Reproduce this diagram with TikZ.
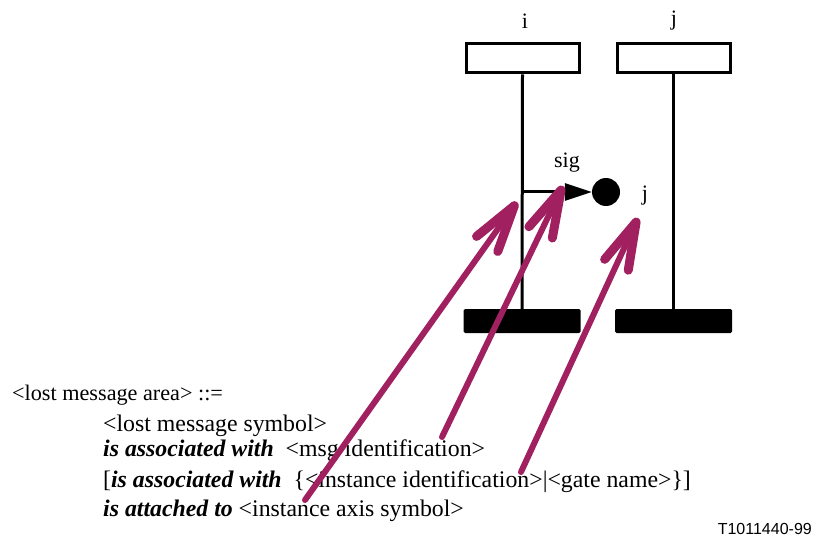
\documentclass[tikz,border=0pt]{standalone}
\usepackage{fontspec}
\setmainfont{Liberation Serif}
\newfontfamily\labelsans{Liberation Sans}
\usetikzlibrary{arrows.meta}
\definecolor{pointer}{RGB}{160,32,96}
\tikzset{
  headbox/.style={draw, line width=3pt, minimum width=113pt, minimum height=29pt, inner sep=0pt},
  endbar/.style={fill=black, rounded corners=1.5pt, minimum width=117pt, minimum height=24pt, inner sep=0pt},
  axisline/.style={line width=3pt},
  lbl/.style={font=\fontsize{22}{26}\selectfont, inner sep=0pt},
  grammar/.style={font=\fontsize{23.8}{28}\selectfont, anchor=base west, inner sep=0pt},
  pointerarrow/.style={draw=pointer, line width=6pt, line cap=round,
    -{Straight Barb[length=47pt, width=26pt, line width=9pt, round]}},
}
\newcommand{\kw}[1]{\textbf{\textit{#1}}}
\begin{document}
\begin{tikzpicture}[x=1pt, y=-1pt]
\useasboundingbox (0,0) rectangle (814,540);
% instance heads
\node[headbox] (headi) at (522.5,58.5) {};
\node[headbox] (headj) at (673.5,58.5) {};
\node[lbl] (namei) at (525,21) {i};
\node[lbl] (namej) at (674,21) {j};
% instance ends
\node[endbar] (endi) at (522,321) {};
\node[endbar] (endj) at (673.5,321) {};
% axes
\draw[axisline] (headi.south) -- (endi.north);
\draw[axisline] (headj.south) -- (endj.north);
% lost message
\coordinate (msgstart) at (522,192);
\node[circle, fill=black, minimum size=28pt, inner sep=0pt] (lost) at (606,192) {};
\draw[line width=3pt, -{Triangle[length=27pt, width=17pt]}] (msgstart) -- (lost.west);
\node[lbl] (sig) at (567,163) {sig};
\node[lbl] (jlabel) at (645,196) {j};
% grammar text
\node[grammar, font=\fontsize{22.2}{28}\selectfont] (g1) at (12,400) {<lost message area> ::=};
\node[grammar] (g2) at (103,431) {<lost message symbol>};
\node[grammar] (g3) at (103,456) {\kw{is associated with}\ \ <msg identification>};
\node[grammar] (g4) at (103,487) {[\kw{is associated with}\ \ \{<instance identification>|<gate name>\}]};
\node[grammar] (g5) at (103,516) {\kw{is attached to} <instance axis symbol>};
\node[font=\labelsans\fontsize{16}{18}\selectfont, anchor=base east, inner sep=0pt] (tag) at (812,534) {T1011440-99};
% pointer arrows
\coordinate (p1s) at (305,500);
\coordinate (p1e) at (517,202);
\coordinate (p2s) at (442,437);
\coordinate (p2e) at (563,186);
\coordinate (p3s) at (521,472);
\coordinate (p3e) at (638,218);
\draw[pointerarrow] (p1s) -- (p1e);
\draw[pointerarrow] (p2s) -- (p2e);
\draw[pointerarrow] (p3s) -- (p3e);
\end{tikzpicture}
\end{document}
